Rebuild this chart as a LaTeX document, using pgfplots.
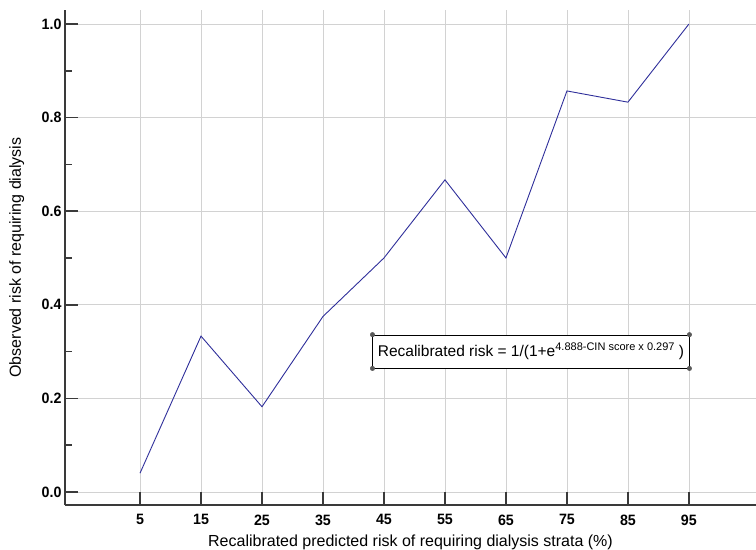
\documentclass[border=0pt]{standalone}
\usepackage{fontspec}
\setmainfont{Liberation Sans}
\newfontfamily\narrowfont[FakeStretch=0.95]{Liberation Sans}
\usepackage{pgfplots}
\pgfplotsset{compat=1.18}
\usetikzlibrary{calc}
\definecolor{linecol}{HTML}{2E2E9A}
\definecolor{spine}{HTML}{3A3A3A}
\begin{document}
\begin{tikzpicture}
\begin{axis}[name=ax, scale only axis, width=691pt, height=495pt,
 xmin=-7.3, xmax=106, ymin=-0.028, ymax=1.03,
 axis x line*=bottom, axis y line*=left,
 axis line style={spine, line width=2pt, -},
 xtick={5,15,...,95}, ytick={0,0.2,...,1}, minor y tick num=1,
 tick align=inside, major tick length=13pt, minor tick length=7pt,
 tick style={spine, line width=1.5pt},
 xmajorgrids, ymajorgrids,
 major grid style={gray!35, line width=0.6pt},
 ticklabel style={font=\narrowfont\bfseries\fontsize{15}{15}\selectfont},
 /pgf/number format/assume math mode=true,
 yticklabel style={/pgf/number format/.cd, fixed, fixed zerofill, precision=1},
 xticklabel style={yshift=-6pt},
 xlabel={Recalibrated predicted risk of requiring dialysis strata (\%)},
 ylabel={Observed risk of requiring dialysis},
 label style={font=\fontsize{16}{18}\selectfont},
 xlabel style={at={(axis description cs:0.5,-0.083)}, anchor=base},
 ylabel style={at={(axis description cs:-0.07,0.5)}, anchor=center},
 clip=false,
 ]
\addplot[linecol, line width=0.9pt, mark=none] coordinates {
 (5,0.04) (15,0.333) (25,0.182) (35,0.375) (45,0.5) (55,0.667) (65,0.5) (75,0.857) (85,0.833) (95,1.0)
};
\node[draw=black, line width=0.8pt, inner xsep=5pt, inner ysep=4pt, minimum height=33pt,
 font=\fontsize{15.5}{15.5}\selectfont, fill=white] (eq) at (axis cs:69.1,0.3)
 {Recalibrated risk = 1/(1+e\raisebox{0.75ex}{\fontsize{11}{11}\selectfont 4.888-CIN score x 0.297} )};
\end{axis}
\foreach \a in {north west, north east, south west, south east}
 \draw[fill=white, line width=0.5pt, gray!70!black] (eq.\a) circle (2.2pt);
\pgfresetboundingbox
\path ($(ax.south west)+(-65pt,-44pt)$) rectangle ($(ax.north east)+(0pt,10pt)$);
\end{tikzpicture}
\end{document}
